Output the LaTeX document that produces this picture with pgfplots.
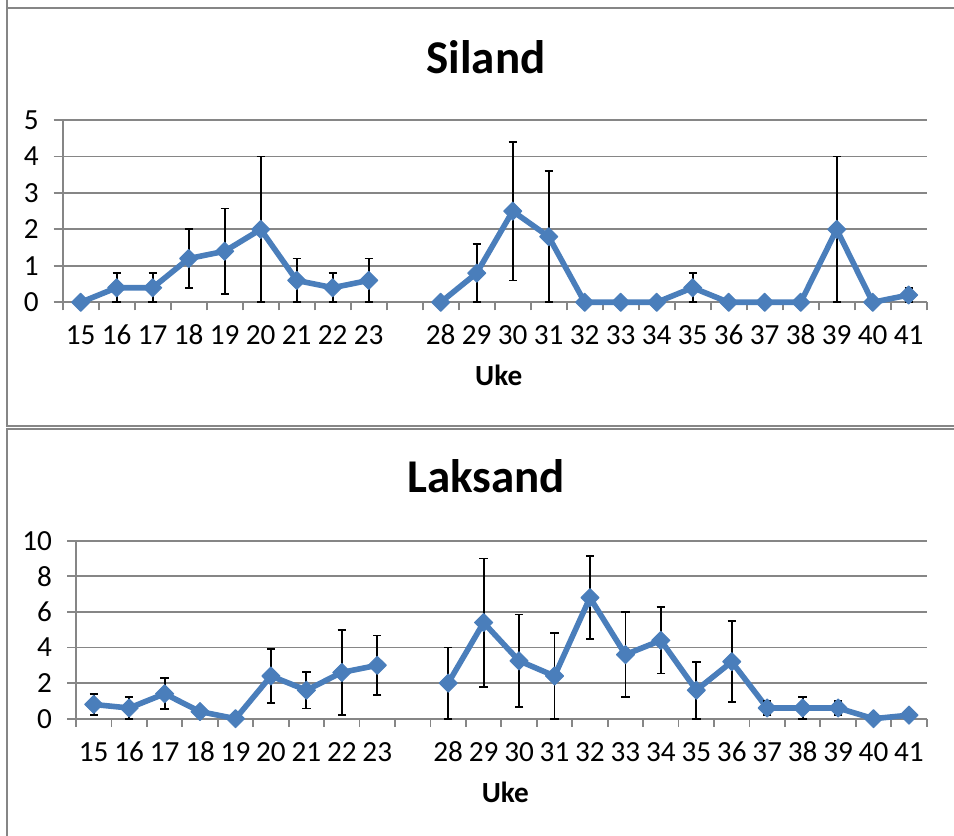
\documentclass[border=0pt]{standalone}
\usepackage{pgfplots}
\pgfplotsset{compat=1.18}
\usepackage{fontspec}
\setmainfont{Carlito}
\definecolor{serie}{HTML}{4A7EBB}
\definecolor{gridg}{HTML}{868686}
\pgfplotsset{
  panel/.style={
    scale only axis,
    anchor=south west,
    xmin=-0.5, xmax=23.5,
    ymin=0,
    axis x line=bottom, axis y line=left,
    axis line style={gridg, line width=0.9pt, -},
    xtick={0,1,2,3,4,5,6,7,8,10,11,12,13,14,15,16,17,18,19,20,21,22,23},
    xticklabels={15,16,17,18,19,20,21,22,23,28,29,30,31,32,33,34,35,36,37,38,39,40,41},
    minor xtick={-0.5,0.5,...,23.5},
    major x tick style={draw=none},
    minor x tick style={gridg, line width=0.9pt},
    minor tick length=4pt,
    major tick length=4.5pt,
    tick align=outside,
    ytick style={gridg, line width=0.9pt},
    ymajorgrids,
    grid style={gridg, line width=0.9pt},
    tick label style={font=\fontsize{14.6}{17}\selectfont},
    xticklabel style={anchor=base, yshift=-16.8pt},
    yticklabel style={xshift=-4pt},
    /pgf/number format/assume math mode=true,
    xlabel={Uke},
    xlabel style={font=\fontsize{14.6}{17}\selectfont\bfseries, at={(axis description cs:0.5,0)}, anchor=base, yshift=-41.7pt, xshift=2pt},
    clip=false,
  },
  ser/.style={color=serie, line width=2.8pt, line join=round,
    mark=square*, mark size=3.2pt,
    mark options={rotate=45, line width=0.5pt, fill=serie, draw=serie},
    error bars/y dir=both, error bars/y explicit,
    error bars/error bar style={black, line width=0.9pt},
    error bars/error mark options={black, rotate=90, mark size=2.1pt, line width=0.9pt}},
}
\begin{document}
\begin{tikzpicture}[x=0.5pt, y=0.5pt]
\useasboundingbox (0,0) rectangle (954,836);
% frames
\draw[gridg, line width=1pt] (6.7,836) -- (6.7,827.7) -- (960,827.7);
\draw[gridg, line width=1pt] (6.7,827.7) -- (6.7,410.3) -- (960,410.3);
\draw[gridg, line width=1pt] (6.7,-5) -- (6.7,407.3) -- (960,407.3);
% titles
\node[anchor=base, font=\fontsize{23.5}{28}\selectfont\bfseries] at (486,762.7) {Siland};
\node[anchor=base, font=\fontsize{23.5}{28}\selectfont\bfseries] at (486,343) {Laksand};

\begin{axis}[panel, at={(31.35pt,266.85pt)}, width=432pt, height=91.15pt,
  ymax=5, ytick={0,1,2,3,4,5}]
\addplot[ser] table[x=x, y=y, y error=e] {
x y e
0 0 0
1 0.4 0.4
2 0.4 0.4
3 1.2 0.8
4 1.4 1.17
5 2.0 2.0
6 0.6 0.6
7 0.4 0.4
8 0.6 0.6
};
\addplot[ser] table[x=x, y=y, y error=e] {
x y e
10 0 0
11 0.8 0.8
12 2.5 1.9
13 1.8 1.8
14 0 0
15 0 0
16 0 0
17 0.4 0.4
18 0 0
19 0 0
20 0 0
21 2.0 2.0
22 0 0
23 0.2 0.2
};
\end{axis}

\begin{axis}[panel, at={(38pt,58.65pt)}, width=425.35pt, height=89pt,
  ymax=10, ytick={0,2,4,6,8,10}]
\addplot[ser] table[x=x, y=y, y error=e] {
x y e
0 0.8 0.6
1 0.6 0.6
2 1.4 0.87
3 0.4 0
4 0 0
5 2.4 1.5
6 1.6 1.03
7 2.6 2.37
8 3.0 1.67
};
\addplot[ser] table[x=x, y=y, y error=e] {
x y e
10 2.0 2.0
11 5.4 3.6
12 3.25 2.6
13 2.4 2.4
14 6.8 2.33
15 3.6 2.4
16 4.4 1.86
17 1.6 1.6
18 3.2 2.28
19 0.6 0.38
20 0.6 0.6
21 0.6 0.4
22 0 0
23 0.2 0
};
\end{axis}
\end{tikzpicture}
\end{document}
